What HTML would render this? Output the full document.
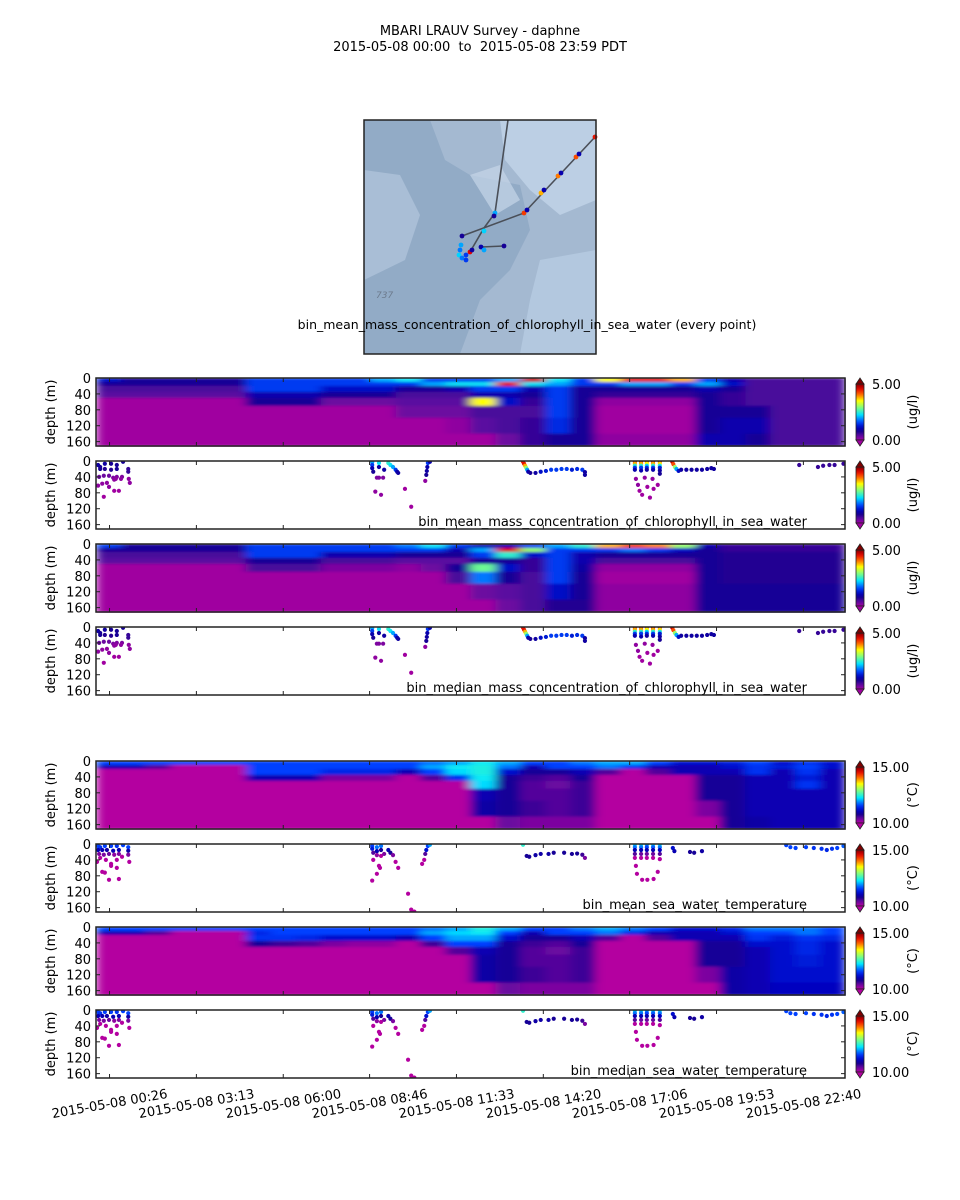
<!DOCTYPE html>
<html><head><meta charset="utf-8">
<style>
html,body{margin:0;padding:0;background:#fff;}
svg{display:block;font-family:"DejaVu Sans","Liberation Sans",sans-serif;}
</style></head>
<body>
<svg id="fig" width="960" height="1200" viewBox="0 0 960 1200" xmlns="http://www.w3.org/2000/svg">
<defs>
<filter id="smooth" x="0" y="0" width="1" height="1"><feGaussianBlur stdDeviation="5 1.2" edgeMode="duplicate"/></filter>
</defs>
<text x="480" y="35" text-anchor="middle" font-size="13">MBARI LRAUV Survey - daphne</text>
<text x="480" y="51" text-anchor="middle" font-size="13">2015-05-08 00:00&#160; to &#160;2015-05-08 23:59 PDT</text>

<g>
<rect x="364" y="120" width="232" height="234" fill="#a4b9d1"/>
<path d="M364,120 L430,120 L445,160 L470,175 L520,185 L530,230 L510,270 L480,300 L460,354 L364,354 Z" fill="#92abc6"/>
<path d="M364,170 L400,175 L420,215 L405,260 L364,280 Z" fill="#a9bed6"/>
<path d="M500,120 L596,120 L596,200 L560,215 L530,190 L505,160 Z" fill="#bccfe4"/>
<path d="M540,260 L596,250 L596,354 L520,354 L530,300 Z" fill="#b3c8df"/>
<path d="M470,175 L500,165 L520,200 L495,215 Z" fill="#c6d6e8" opacity="0.7"/>
<g stroke="#4a4f58" stroke-width="1.6" fill="none">
<polyline points="508,120 495,213 484,228 470,252"/>
<polyline points="462,236 524,213 595,137"/>
<polyline points="481,247 504,246"/>
</g>
<g id="mapdots"></g>
<text x="376" y="298" font-size="9" font-style="italic" fill="#6c7a8c">737</text>
<rect x="364" y="120" width="232" height="234" fill="none" stroke="#222" stroke-width="1.5"/>
</g>
<text x="527" y="329" text-anchor="middle" font-size="12.5">bin_mean_mass_concentration_of_chlorophyll_in_sea_water (every point)</text>

<g id="panels"></g>
<g id="xlabels"></g>
</svg>
<script>
// ---------- data ----------
const timeDomain = [0, 1440];            // minutes since 2015-05-08 00:00
const depthDomain = [0, 171];
const depthTicks = [0, 40, 80, 120, 160];
const timeTickMinutes = [26, 193, 360, 526, 693, 860, 1026, 1193, 1360];
const timeTickLabels = ["2015-05-08 00:26","2015-05-08 03:13","2015-05-08 06:00","2015-05-08 08:46","2015-05-08 11:33","2015-05-08 14:20","2015-05-08 17:06","2015-05-08 19:53","2015-05-08 22:40"];
const columnCount = 30;
const rowEdges = [0, 10, 20, 35, 50, 70, 100, 140, 180];

const chlMeanGrid = [
 [1.2,0.8,0.8,0.8,0.8,0.8,1.5,1.5,1.5,1.5,1.5,2.0,2.3,1.5,1.5,1.5,2.0,4.7,2.3,1.5,3.5,4.5,4.5,3.8,1.5,1.0,0.5,0.5,0.5,0.5],
 [0.8,0.8,0.8,0.8,0.8,0.8,1.5,1.5,1.5,1.5,1.5,1.5,1.5,2.0,2.3,2.3,4.5,2.3,2.0,1.5,1.5,2.0,2.0,1.5,2.0,1.2,0.5,0.5,0.5,0.5],
 [0.5,0.5,0.5,0.5,0.5,0.5,1.5,1.5,1.5,1.2,1.2,1.2,0.8,0.8,1.0,1.5,1.5,1.0,1.5,0.8,0.8,0.8,0.8,0.8,1.0,0.8,0.5,0.5,0.5,0.5],
 [0.4,0.4,0.4,0.4,0.4,0.4,1.0,1.0,1.0,0.8,0.8,0.8,0.5,0.5,0.5,1.0,1.0,0.8,1.5,0.8,0.6,0.6,0.6,0.6,0.8,0.6,0.5,0.5,0.5,0.5],
 [0,0,0,0,0,0,0.8,0.8,0.8,0.3,0.3,0.3,0.4,0.4,0.4,3.5,1.2,0.6,1.5,0.8,0.1,0.1,0.1,0.1,0.8,0.6,0.5,0.5,0.5,0.5],
 [0,0,0,0,0,0,0,0,0,0,0,0,0.3,0.3,0.3,0.5,0.5,0.5,1.5,0.8,0,0,0,0,0.8,0.8,0.8,0.5,0.5,0.5],
 [0,0,0,0,0,0,0,0,0,0,0,0,0,0,0.1,0.4,0.5,0.6,1.4,0.8,0,0,0,0,0.8,1.0,1.0,0.5,0.5,0.5],
 [0,0,0,0,0,0,0,0,0,0,0,0,0,0,0,0,0.3,0.6,0.8,0.8,0.1,0.1,0.1,0.1,1.0,1.0,0.8,0.5,0.5,0.5]
];
const chlMedianGrid = [
 [1.5,0.8,0.8,0.8,0.8,0.8,1.5,1.5,1.5,1.5,1.5,1.5,1.8,2.3,1.5,1.0,1.0,1.5,2.0,2.5,3.8,4.3,4.0,3.0,1.0,0.6,0.6,0.6,0.6,0.6],
 [0.8,0.8,0.8,0.8,0.8,0.8,1.5,1.5,1.5,1.5,1.5,1.5,1.5,1.5,1.0,2.0,4.6,3.0,1.5,1.5,1.5,1.8,1.5,1.2,0.8,0.6,0.6,0.6,0.6,0.6],
 [0.5,0.5,0.5,0.5,0.5,0.5,1.5,1.5,1.5,1.0,1.0,1.0,0.8,0.8,0.8,1.5,2.5,1.2,1.5,1.0,0.8,0.8,0.8,0.8,0.8,0.7,0.7,0.7,0.7,0.7],
 [0.4,0.4,0.4,0.4,0.4,0.4,0.8,0.8,0.8,0.5,0.5,0.5,0.4,0.4,0.4,0.8,0.8,0.6,1.5,1.0,0.5,0.5,0.5,0.5,0.8,0.7,0.7,0.7,0.7,0.7],
 [0,0,0,0,0,0,0.5,0.5,0.5,0.2,0.2,0.2,0.1,0.3,0.8,2.8,1.2,0.6,1.5,0.9,0.1,0.1,0.1,0.1,0.8,0.7,0.7,0.7,0.7,0.7],
 [0,0,0,0,0,0,0,0,0,0,0,0,0,0,0.5,1.8,0.8,0.5,1.5,0.8,0,0,0,0,0.8,0.7,0.7,0.7,0.7,0.7],
 [0,0,0,0,0,0,0,0,0,0,0,0,0,0,0,0.3,0.4,0.5,1.2,0.8,0.1,0.1,0.1,0.1,0.8,0.8,0.8,0.8,0.8,0.8],
 [0,0,0,0,0,0,0,0,0,0,0,0,0,0,0,0,0.3,0.5,0.7,0.7,0.1,0.1,0.1,0.1,0.8,0.8,0.8,0.8,0.8,0.8]
];
const tempMeanGrid = [
 [11.6,11.6,11.6,11.6,11.6,11.6,11.6,11.6,11.6,11.6,11.6,11.6,11.6,11.8,12.0,12.3,12.0,11.6,11.6,11.8,12.0,12.0,11.6,11.2,11.2,11.3,11.6,11.2,11.5,11.2],
 [11.0,11.0,10.5,10.0,10.0,10.0,11.6,11.6,11.6,11.6,11.6,11.6,11.6,12.0,12.3,12.4,11.8,11.0,11.6,11.6,11.8,11.5,11.0,11.0,11.0,11.2,11.5,11.3,11.6,11.2],
 [10.0,10.0,10.0,10.0,10.0,10.0,11.6,11.6,11.6,11.4,11.4,11.4,11.0,11.6,12.2,12.4,11.2,10.8,10.8,11.0,10.5,10.0,10.5,11.0,11.0,11.0,11.5,11.0,11.5,11.0],
 [10,10,10,10,10,10,11.0,11.0,11.0,10.3,10.3,10.3,10.0,10.5,11.5,12.3,10.8,10.6,10.5,10.8,10,10,10,10,10.8,10.8,11.0,11.0,11.3,11.0],
 [10,10,10,10,10,10,10,10,10,10,10,10,10,10,10,12.2,10.8,10.5,10.4,10.6,10,10,10,10,10.8,10.8,11.0,11.0,11.5,11.0],
 [10,10,10,10,10,10,10,10,10,10,10,10,10,10,10,11.0,10.8,10.5,10.5,10.6,10,10,10,10,10.8,10.8,11.0,11.0,11.0,11.0],
 [10,10,10,10,10,10,10,10,10,10,10,10,10,10,10,10.9,10.8,10.6,10.5,10.6,10,10,10,10,10.3,10.8,11.0,11.0,11.0,11.0],
 [10,10,10,10,10,10,10,10,10,10,10,10,10,10,10,10,10.4,10.3,10.3,10.3,10,10,10,10,10,10.8,10.9,11.0,11.0,11.0]
];
const tempMedianGrid = [
 [11.6,11.6,11.6,11.6,11.6,11.6,11.6,11.6,11.6,11.6,11.6,11.6,11.6,11.8,12.0,12.4,12.0,11.6,11.6,11.8,12.0,11.8,11.6,11.2,11.2,11.4,11.8,11.8,11.8,11.6],
 [11.0,11.0,10.5,10.0,10.0,10.0,11.4,11.6,11.6,11.6,11.6,11.6,11.6,12.0,12.2,12.3,11.6,11.0,11.6,11.6,11.8,11.4,11.0,11.0,11.0,11.2,11.6,11.6,11.8,11.6],
 [10.0,10.0,10.0,10.0,10.0,10.0,11.5,11.5,11.4,11.2,11.2,11.2,11.0,11.6,12.0,12.0,11.2,10.8,10.8,11.0,10.5,10.0,10.5,11.0,11.0,11.0,11.5,11.3,11.5,11.4],
 [10,10,10,10,10,10,10.8,10.6,10.5,10.3,10.2,10.2,10.0,10.6,11.6,11.6,10.8,10.6,10.5,10.8,10,10,10,10,10.8,10.8,11.2,11.2,11.4,11.2],
 [10,10,10,10,10,10,10,10,10,10,10,10,10,10,10.5,11.0,10.8,10.5,10.4,10.6,10,10,10,10,10.8,10.8,11.0,11.2,11.4,11.2],
 [10,10,10,10,10,10,10,10,10,10,10,10,10,10,10,10.9,10.8,10.5,10.5,10.6,10,10,10,10,10.8,10.8,11.0,11.2,11.3,11.2],
 [10,10,10,10,10,10,10,10,10,10,10,10,10,10,10,10.9,10.8,10.6,10.5,10.6,10,10,10,10,10.3,10.9,11.0,11.2,11.2,11.2],
 [10,10,10,10,10,10,10,10,10,10,10,10,10,10,10,10,10.4,10.3,10.3,10.3,10,10,10,10,10,10.9,11.0,11.1,11.1,11.1]
];

// scatter: [minutes, depth, value]
const chlPoints = [
 [4,10,0.9],[8,15,0.8],[17,7,0.9],[29,7,0.8],[40,10,0.8],[52,2,0.8],
 [8,20,0.8],[17,20,0.7],[29,22,0.7],[40,20,0.8],[62,20,0.6],[62,27,0.6],
 [6,40,0.3],[15,37,0.3],[25,37,0.3],[33,42,0.2],[40,40,0.2],[50,40,0.2],
 [4,62,0.1],[12,57,0.1],[21,55,0.1],[25,65,0.1],[35,47,0.1],[38,45,0.1],[48,45,0.1],[63,45,0.1],[65,55,0.1],
 [15,90,0],[35,75,0],[44,75,0],
 [531,3,2.0],[531,10,1.5],[531,18,1.0],[533,27,0.8],[544,15,0.9],[544,5,2.3],[554,22,0.9],[562,5,2.5],[566,10,2.3],[571,15,2.0],[576,22,1.5],[579,27,1.0],[581,30,0.9],
 [537,77,0.1],[548,85,0.1],[540,42,0.2],[544,42,0.2],[552,42,0.2],[594,70,0.0],[606,115,0.0],
 [638,5,1.5],[637,15,1.0],[636,25,0.9],[635,35,0.8],[633,50,0.1],[642,2,1.0],
 [821,2,4.5],[823,7,4.5],[825,12,3.8],[827,17,3.0],[829,22,2.0],[831,27,1.0],[835,30,0.8],[845,30,0.9],[855,27,1.2],[865,25,1.3],[875,22,1.5],[885,22,1.5],[895,20,1.5],[905,20,1.5],[915,22,1.3],[925,20,1.4],[935,22,1.5],[940,35,0.9],[940,28,0.9],
 [1036,2,4.5],[1036,7,3.8],[1036,12,2.5],[1036,17,1.5],[1036,22,1.0],
 [1048,2,4.5],[1048,7,3.8],[1048,12,2.5],[1048,17,1.5],[1048,24,1.0],
 [1059,2,4.2],[1059,7,3.5],[1059,12,2.2],[1059,17,1.4],[1059,22,0.9],
 [1071,2,4.6],[1071,7,3.8],[1071,12,2.5],[1071,17,1.5],[1071,22,1.0],
 [1084,2,4.4],[1084,7,3.6],[1084,12,2.4],[1084,17,1.3],[1084,24,0.9],[1084,32,0.8],
 [1038,45,0.1],[1042,60,0.1],[1055,42,0.1],[1045,75,0.0],[1060,65,0.0],[1070,45,0.1],[1072,70,0],[1080,60,0],[1050,85,0],[1065,92,0],
 [1108,2,4.7],[1110,8,4.2],[1113,15,3.0],[1116,20,2.0],[1120,25,1.2],
 [1125,22,0.9],[1135,22,0.9],[1145,22,0.9],[1155,22,0.9],[1165,22,0.9],[1175,20,0.9],[1183,18,0.9],[1188,20,0.9],
 [1352,10,0.6],[1388,15,0.6],[1398,12,0.6],[1410,10,0.6],[1420,10,0.6],[1437,7,0.6]
];
const tempPoints = [
 [4,5,11.6],[8,8,11.5],[17,5,11.6],[29,5,11.6],[40,5,11.5],[52,3,11.6],[62,8,11.6],
 [4,15,11.0],[12,15,11.0],[21,15,10.9],[33,17,11.0],[44,15,11.0],[62,17,10.9],
 [6,25,10.3],[15,27,10.3],[25,25,10.4],[35,27,10.2],[44,25,10.3],[62,27,10.3],
 [2,45,10],[8,35,10],[19,40,10],[29,50,10],[40,40,10],[50,32,10],[64,45,10],[12,70,10],[17,72,10],[29,55,10],[40,60,10],[25,90,10],[44,88,10],
 [531,5,11.6],[531,12,11.3],[533,22,10.5],[540,8,11.8],[540,18,11.0],[548,5,11.8],[548,15,10.8],[548,30,10.0],[540,28,10.2],[554,25,10.3],[533,40,10],[540,75,10],[544,55,10],[546,60,10],[531,92,10],
 [562,15,11.0],[566,22,10.8],[571,28,10.3],[576,45,10],[581,60,10],[600,125,10],[606,165,10],[612,170,10],
 [627,50,10],[631,40,10],[633,25,10.5],[635,15,11.2],[638,5,11.6],[642,2,12.0],
 [821,2,12.5],[828,30,10.8],[833,32,10.8],[845,28,10.9],[855,25,10.9],[870,25,10.9],[880,22,10.8],[900,22,10.8],[915,25,10.8],[925,24,10.8],[935,27,10.6],[940,35,10.3],
 [1036,2,12.2],[1036,8,11.8],[1036,15,11.0],[1036,25,10.5],[1036,35,10],
 [1048,2,12.3],[1048,8,11.8],[1048,15,11.0],[1048,25,10.4],[1048,35,10],
 [1059,2,12.0],[1059,8,11.6],[1059,15,11.0],[1059,25,10.4],[1059,35,10],
 [1071,2,12.2],[1071,8,11.7],[1071,15,11.0],[1071,25,10.4],[1071,35,10],
 [1084,2,12.3],[1084,8,11.8],[1084,15,11.1],[1084,25,10.5],[1084,38,10],
 [1038,55,10],[1040,75,10],[1050,90,10],[1060,90,10],[1072,88,10],[1080,70,10],
 [1109,10,11.2],[1112,18,11.0],[1142,20,10.8],[1150,22,10.8],[1165,18,10.9],
 [1327,3,11.6],[1335,8,11.6],[1345,10,11.6],[1365,8,11.6],[1380,10,11.5],[1395,12,11.5],[1405,15,11.4],[1415,12,11.5],[1425,10,11.6],[1437,5,11.7]
];
const chlRange = [0, 5];
const tempRange = [10, 15];

// ---------- drawing ----------
const NS = "http://www.w3.org/2000/svg";
const L = 96, R = 845, PH = 68;
const panelTops = [378, 461, 544, 627, 761, 844, 927, 1010];
function xScale(t){ return L + (t - timeDomain[0]) / (timeDomain[1] - timeDomain[0]) * (R - L); }
function yScale(top, d){ return top + (Math.min(d, depthDomain[1]) - depthDomain[0]) / (depthDomain[1] - depthDomain[0]) * PH; }

const chlStops = [[0,"#a000a0"],[0.08,"#5a0aa0"],[0.15,"#1a0090"],[0.22,"#0000b8"],[0.32,"#0048ff"],[0.45,"#00e0ff"],[0.58,"#80ff80"],[0.70,"#ffff00"],[0.82,"#ff6000"],[0.92,"#e00000"],[1,"#800000"]];
const tempStops = [[0,"#b400a0"],[0.08,"#6a08a0"],[0.15,"#1a0090"],[0.22,"#0000c0"],[0.32,"#0040ff"],[0.45,"#00e8ff"],[0.58,"#80ff80"],[0.70,"#ffff00"],[0.82,"#ff6000"],[0.92,"#e00000"],[1,"#800000"]];
function hex(c){ return [parseInt(c.substr(1,2),16),parseInt(c.substr(3,2),16),parseInt(c.substr(5,2),16)]; }
function cmap(stops, v){
  v = Math.max(0, Math.min(1, v));
  for (let i = 1; i < stops.length; i++){
    if (v <= stops[i][0]){
      const a = stops[i-1], b = stops[i], f = (v - a[0]) / (b[0] - a[0]);
      const ca = hex(a[1]), cb = hex(b[1]);
      return "rgb(" + ca.map((x,k)=>Math.round(x + (cb[k]-x)*f)).join(",") + ")";
    }
  }
  return stops[stops.length-1][1];
}
function mk(tag, attrs, parent){
  const e = document.createElementNS(NS, tag);
  for (const k in attrs) e.setAttribute(k, attrs[k]);
  if (parent) parent.appendChild(e);
  return e;
}
const root = document.getElementById("panels");

function drawAxes(g, top){
  mk("rect", {x:L, y:top, width:R-L, height:PH, fill:"none", stroke:"#222", "stroke-width":1.5}, g);
  depthTicks.forEach(d => {
    const y = yScale(top, d);
    mk("line", {x1:L, x2:L+4, y1:y, y2:y, stroke:"#222"}, g);
    mk("line", {x1:R-4, x2:R, y1:y, y2:y, stroke:"#222"}, g);
    const t = mk("text", {x:L-5, y:y+5, "text-anchor":"end", "font-size":13}, g);
    
    
    t.textContent = d;
  });
  timeTickMinutes.forEach(m => {
    const x = xScale(m);
    mk("line", {x1:x, x2:x, y1:top, y2:top+4, stroke:"#222"}, g);
    mk("line", {x1:x, x2:x, y1:top+PH-4, y2:top+PH, stroke:"#222"}, g);
  });
  const lab = mk("text", {x:0, y:0, "text-anchor":"middle", "font-size":13, transform:"translate(55," + (top+PH/2) + ") rotate(-90)"}, g);
  
  
  lab.textContent = "depth (m)";
}
function drawColorbar(g, top, stops, range, unit, idx){
  const cx = 856, w = 8, y0 = top + 6, y1 = top + PH - 6;
  const gid = "cb" + idx;
  const grad = mk("linearGradient", {id:gid, x1:0, y1:1, x2:0, y2:0}, g);
  for (let i = 0; i <= 20; i++) mk("stop", {offset:i/20, "stop-color":cmap(stops, i/20)}, grad);
  const cb = mk("rect", {x:cx, y:y0, width:w, height:y1-y0, fill:"url(#"+gid+")", stroke:"#222", "stroke-width":0.8}, g);
  
  
  mk("polygon", {points:cx+","+y0+" "+(cx+w)+","+y0+" "+(cx+w/2)+","+(top), fill:cmap(stops,1), stroke:"#222","stroke-width":0.8}, g);
  mk("polygon", {points:cx+","+y1+" "+(cx+w)+","+y1+" "+(cx+w/2)+","+(top+PH), fill:cmap(stops,0), stroke:"#222","stroke-width":0.8}, g);
  const t1 = mk("text", {x:872, y:y0+5, "font-size":13}, g);
  
  
  t1.textContent = range[1].toFixed(2);
  const t0 = mk("text", {x:872, y:y1+5, "font-size":13}, g);
  
  
  t0.textContent = range[0].toFixed(2);
  const u = mk("text", {x:0, y:0, "text-anchor":"middle", "font-size":13, transform:"translate(917," + (top+PH/2) + ") rotate(-90)"}, g);
  
  
  u.textContent = unit;
}
function drawHeatmap(top, grid, stops, range, unit, idx, name){
  const g = mk("g", {}, root);
  
  
  const cells = mk("g", {filter:"url(#smooth)"}, g);
  const span = (timeDomain[1]-timeDomain[0]) / columnCount;
  grid.forEach((row, r) => {
    row.forEach((v, c) => {
      const x0 = xScale(c*span), x1 = xScale((c+1)*span);
      const ya = yScale(top, rowEdges[r]), yb = yScale(top, rowEdges[r+1]);
      const cell = mk("rect", {x:x0, y:ya, width:x1-x0+0.6, height:yb-ya+0.6, fill:cmap(stops, (v-range[0])/(range[1]-range[0]))}, cells);
      
      
    });
  });
  drawAxes(g, top);
  drawColorbar(g, top, stops, range, unit, idx);
}
function drawScatter(top, pts, stops, range, unit, idx, name, label){
  const g = mk("g", {}, root);
  
  
  mk("rect", {x:L, y:top, width:R-L, height:PH, fill:"#fff"}, g);
  const clip = mk("clipPath", {id:"clip"+idx}, g);
  mk("rect", {x:L, y:top, width:R-L, height:PH}, clip);
  const dots = mk("g", {"clip-path":"url(#clip"+idx+")"}, g);
  pts.forEach(p => {
    const c = mk("circle", {cx:xScale(p[0]), cy:yScale(top, p[1]), r:2.1, fill:cmap(stops, (p[2]-range[0])/(range[1]-range[0]))}, dots);
    
    
  });
  const t = mk("text", {x:807, y:top+PH-3, "text-anchor":"end", "font-size":13}, g);
  
  
  t.textContent = label;
  drawAxes(g, top);
  drawColorbar(g, top, stops, range, unit, idx);
}
drawHeatmap(panelTops[0], chlMeanGrid, chlStops, chlRange, "(ug/l)", 0, "chl-mean-section");
drawScatter(panelTops[1], chlPoints, chlStops, chlRange, "(ug/l)", 1, "chl-mean-points", "bin_mean_mass_concentration_of_chlorophyll_in_sea_water");
drawHeatmap(panelTops[2], chlMedianGrid, chlStops, chlRange, "(ug/l)", 2, "chl-median-section");
drawScatter(panelTops[3], chlPoints, chlStops, chlRange, "(ug/l)", 3, "chl-median-points", "bin_median_mass_concentration_of_chlorophyll_in_sea_water");
drawHeatmap(panelTops[4], tempMeanGrid, tempStops, tempRange, "(\u00b0C)", 4, "temp-mean-section");
drawScatter(panelTops[5], tempPoints, tempStops, tempRange, "(\u00b0C)", 5, "temp-mean-points", "bin_mean_sea_water_temperature");
drawHeatmap(panelTops[6], tempMedianGrid, tempStops, tempRange, "(\u00b0C)", 6, "temp-median-section");
drawScatter(panelTops[7], tempPoints, tempStops, tempRange, "(\u00b0C)", 7, "temp-median-points", "bin_median_sea_water_temperature");

const xl = document.getElementById("xlabels");
timeTickLabels.forEach((s, i) => {
  const x = xScale(timeTickMinutes[i]);
  const t = mk("text", {x:x, y:1108, "text-anchor":"middle", "font-size":13, transform:"rotate(-10 " + x + " 1103)"}, xl);
  
  
  t.textContent = s;
});

// map track dots
const mapDots = [[524,213,4.3],[541,193,3.8],[558,176,4.0],[576,157,4.2],[595,137,4.5],[527,210,1],[544,190,1],[561,173,1],[579,154,1],
 [495,213,2.0],[494,216,0.8],[484,231,2.2],[470,252,4.6],[466,255,1.5],[462,236,0.8],[461,245,2.0],[460,250,1.8],[459,255,2.2],[462,258,1.8],[466,260,1.5],[472,250,0.9],[481,247,1.0],[484,250,2.0],[504,246,0.8]];
const md = document.getElementById("mapdots");
mapDots.forEach(p => {
  const c = mk("circle", {cx:p[0], cy:p[1], r:2.4, fill:cmap(chlStops, p[2]/5)}, md);
  
  
});
</script>
</body></html>
